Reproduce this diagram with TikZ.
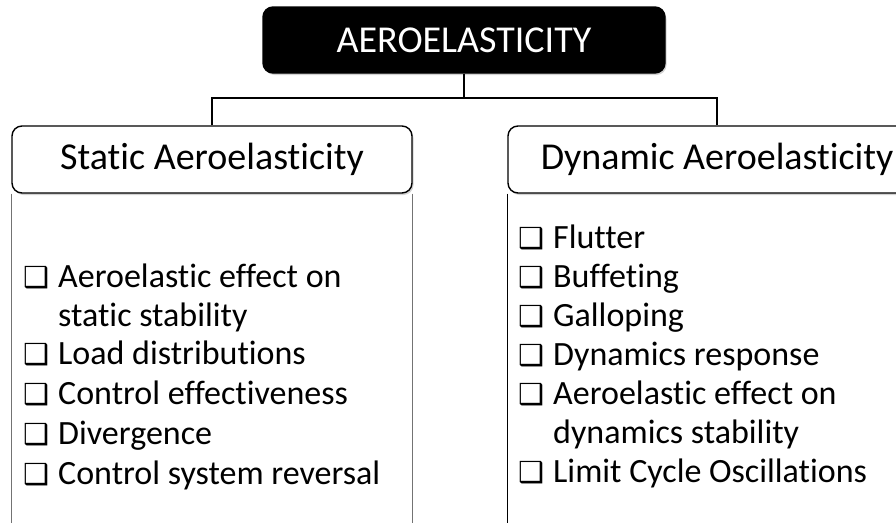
\documentclass[tikz,border=0pt]{standalone}
\usepackage{fontspec}
\setmainfont{Carlito}[Ligatures=NoCommon]
\newfontfamily\boxfont{DejaVu Sans}
\usetikzlibrary{shadows}

\newcommand\chk{\makebox[35pt][l]{\fontsize{29}{29}\boxfont ❑}}

\tikzset{
	head/.style={draw,line width=1.4pt,rounded corners=10pt,minimum height=67pt,
		fill=white,font=\fontsize{38}{38}\selectfont,
		drop shadow={opacity=0.35,shadow xshift=1.5pt,shadow yshift=-2pt}},
	item/.style={inner sep=0pt,anchor=base west,font=\fontsize{34}{34}\selectfont},
	link/.style={line width=1.4pt}
}

\begin{document}
\begin{tikzpicture}[x=1pt,y=-1pt]
	\useasboundingbox (0,0) rectangle (896,522);
	\clip (0,0) rectangle (896,522);
	% top
	\node[head,fill=black,text=white,minimum width=402pt,minimum height=66pt] (root) at (464,40) {AEROELASTICITY};
	\node[head,minimum width=400pt] (static) at (212,159.5) {Static Aeroelasticity};
	\node[head,minimum width=418pt] (dynamic) at (717,159.5) {Dynamic Aeroelasticity};
	\coordinate (bus) at (464,98);
	\draw[link] (root) -- (bus);
	\draw[link] (static.north) |- (bus) -| (dynamic.north);
	% open boxes below the heads
	\draw[black!55,line width=1.4pt] (static.south west) -- ++(0,340);
	\draw[black!55,line width=1.4pt] (static.south east) -- ++(0,340);
	\draw[line width=1.4pt] (dynamic.south west) -- ++(0,340);
	% static list
	\node[item] (s1) at (23,287) {\chk Aeroelastic effect on};
	\node[item] (s1b) at (58,326) {static stability};
	\node[item] (s2) at (23,364) {\chk Load distributions};
	\node[item] (s3) at (23,404) {\chk Control effectiveness};
	\node[item] (s4) at (23,444) {\chk Divergence};
	\node[item] (s5) at (23,484) {\chk Control system reversal};
	% dynamic list
	\node[item] (d1) at (518,248) {\chk Flutter};
	\node[item] (d2) at (518,287) {\chk Buffeting};
	\node[item] (d3) at (518,326) {\chk Galloping};
	\node[item] (d4) at (518,365) {\chk Dynamics response};
	\node[item] (d5) at (518,404) {\chk Aeroelastic effect on};
	\node[item] (d5b) at (553,443) {dynamics stability};
	\node[item] (d6) at (518,482) {\chk Limit Cycle Oscillations};
\end{tikzpicture}
\end{document}
